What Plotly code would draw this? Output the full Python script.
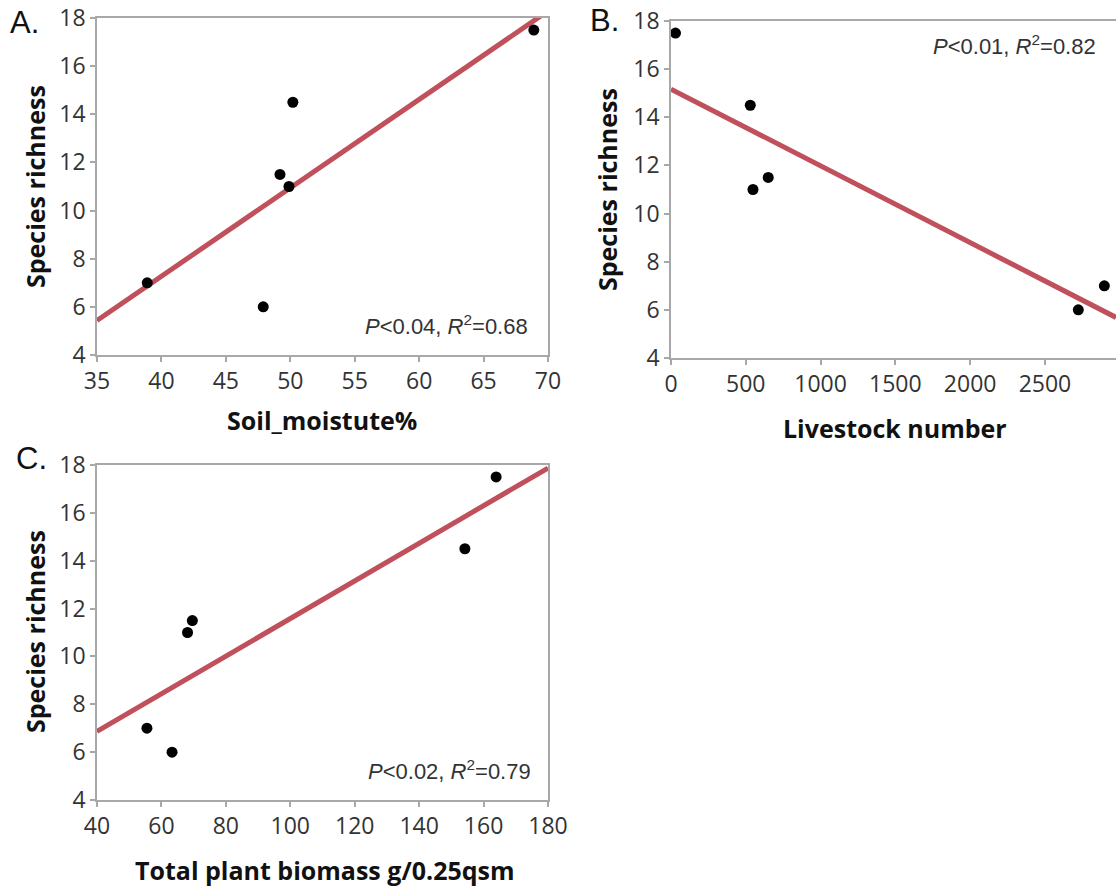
import numpy as np
import plotly.graph_objects as go

# Species richness observed at each of the six sites
richness = [7, 6, 11.5, 11, 14.5, 17.5]

# Explanatory variables per site (same site order as richness)
soil_moisture = [38.9, 47.9, 49.2, 49.9, 50.2, 68.9]
livestock = [2897, 2723, 650, 548, 530, 30]
biomass = [55.5, 63.3, 69.6, 68.1, 154.2, 163.9]

x_ticks_a = [35, 40, 45, 50, 55, 60, 65, 70]
x_ticks_b = [0, 500, 1000, 1500, 2000, 2500]
x_ticks_c = [40, 60, 80, 100, 120, 140, 160, 180]
y_ticks = [4, 6, 8, 10, 12, 14, 16, 18]

stats_a = "<i>P</i>&lt;0.04, <i>R</i><sup>2</sup>=0.68"
stats_b = "<i>P</i>&lt;0.01, <i>R</i><sup>2</sup>=0.82"
stats_c = "<i>P</i>&lt;0.02, <i>R</i><sup>2</sup>=0.79"

W, H = 1116, 886
LINE_COLOR = "#c0505b"
AXIS_COLOR = "#a8a8a8"
TICK_FONT = dict(family="Open Sans", size=23, color="#333333")
TITLE_FONT = dict(family="Open Sans", size=25, color="#111111")
STAT_FONT = dict(family="Liberation Sans", size=22, color="#333333")


def px_x(v):
    return v / W


def px_y(v):
    return 1 - v / H


fig = go.Figure()

panels = [
    # name, x data, x range, x ticks, box (left, right, top, bottom) in px
    ("a", soil_moisture, [35, 70], x_ticks_a, (97, 548, 18, 355)),
    ("b", livestock, [0, 2975], x_ticks_b, (671, 1116, 21, 358)),
    ("c", biomass, [40, 180], x_ticks_c, (97, 548, 465, 800)),
]

for i, (name, xs, xr, xt, box) in enumerate(panels):
    n = "" if i == 0 else str(i + 1)
    xa, ya = "x" + n, "y" + n
    left, right, top, bottom = box
    # least-squares fit line across the full x range
    slope, icpt = np.polyfit(xs, richness, 1)
    fx = np.array(xr, dtype=float)
    fig.add_trace(go.Scatter(x=fx, y=icpt + slope * fx, mode="lines",
                             line=dict(color=LINE_COLOR, width=5),
                             xaxis=xa, yaxis=ya, showlegend=False))
    fig.add_trace(go.Scatter(x=xs, y=richness, mode="markers",
                             marker=dict(color="black", size=11),
                             xaxis=xa, yaxis=ya, showlegend=False))
    common = dict(showline=True, linecolor=AXIS_COLOR, linewidth=1.5,
                  ticks="outside", ticklen=5, tickcolor=AXIS_COLOR,
                  tickwidth=1.5, showgrid=False, zeroline=False,
                  tickfont=TICK_FONT, automargin=False)
    fig.update_layout({
        "xaxis" + n: dict(domain=[px_x(left), px_x(right)], range=xr,
                          tickvals=xt, anchor=ya, mirror=True, **common),
        "yaxis" + n: dict(domain=[px_y(bottom), px_y(top)], range=[4, 18],
                          tickvals=y_ticks, anchor=xa,
                          mirror=(name != "b"), **common),
    })

annotations = [
    # panel letters
    dict(text="A.", x=px_x(8), y=px_y(23), font=dict(size=31)),
    dict(text="B.", x=px_x(588), y=px_y(21), font=dict(size=31)),
    dict(text="C.", x=px_x(14), y=px_y(458), font=dict(size=31)),
    # axis titles
    dict(text="<b>Species richness</b>", x=px_x(35), y=px_y(187),
         textangle=-90, font=TITLE_FONT, xanchor="center"),
    dict(text="<b>Species richness</b>", x=px_x(607), y=px_y(190),
         textangle=-90, font=TITLE_FONT, xanchor="center"),
    dict(text="<b>Species richness</b>", x=px_x(35), y=px_y(632),
         textangle=-90, font=TITLE_FONT, xanchor="center"),
    dict(text="<b>Soil_moistute%</b>", x=px_x(322), y=px_y(420),
         font=TITLE_FONT, xanchor="center"),
    dict(text="<b>Livestock number</b>", x=px_x(895), y=px_y(428),
         font=TITLE_FONT, xanchor="center"),
    dict(text="<b>Total plant biomass g/0.25qsm</b>", x=px_x(325),
         y=px_y(870), font=TITLE_FONT, xanchor="center"),
    # fit statistics
    dict(text=stats_a, x=px_x(530), y=px_y(325), xanchor="right",
         font=STAT_FONT),
    dict(text=stats_b, x=px_x(1098), y=px_y(45), xanchor="right",
         font=STAT_FONT),
    dict(text=stats_c, x=px_x(533), y=px_y(770), xanchor="right",
         font=STAT_FONT),
]
for a in annotations:
    a.setdefault("xanchor", "left")
    a.update(xref="paper", yref="paper", yanchor="middle", showarrow=False)
    a["font"] = dict(a["font"])
    a["font"].setdefault("family", "Liberation Sans")
    a["font"].setdefault("color", "#111111")

fig.update_layout(width=W, height=H, margin=dict(l=0, r=0, t=0, b=0),
                  paper_bgcolor="white", plot_bgcolor="white",
                  annotations=annotations)

fig.write_html("out.html")
